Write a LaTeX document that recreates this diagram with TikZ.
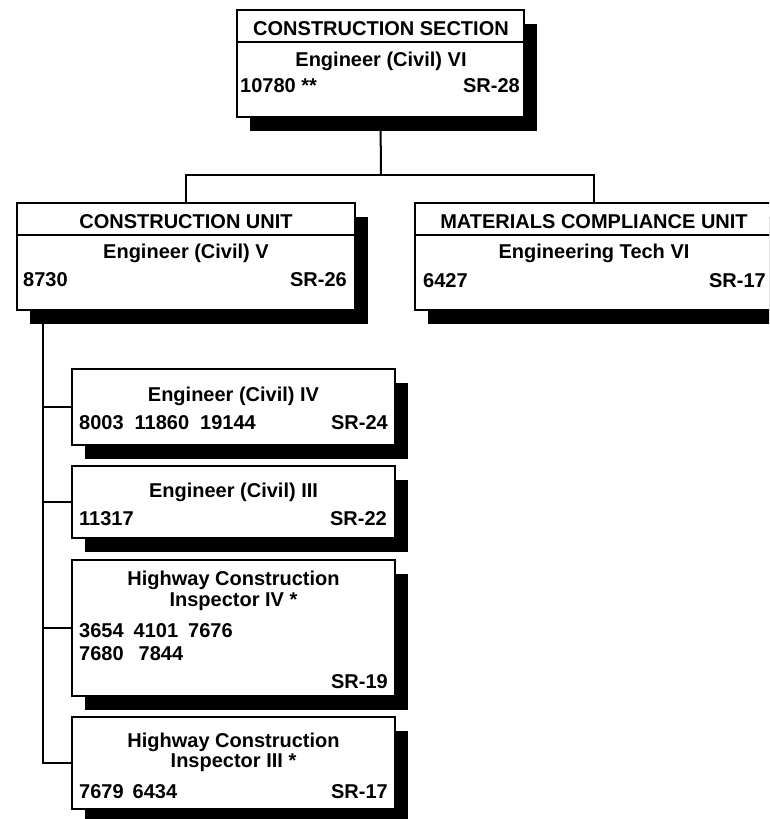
\documentclass[tikz,border=0pt]{standalone}
\usepackage{fontspec}
\setmainfont{Liberation Sans}
\usetikzlibrary{shadows,backgrounds}

\begin{document}
\begin{tikzpicture}[x=1pt,y=-1pt,
  unitbox/.style={draw,line width=2pt,fill=white,inner sep=0pt,
    drop shadow={shadow xshift=13pt,shadow yshift=-13.5pt,fill=black,opacity=1}},
  lbl/.style={inner sep=0pt,font=\fontsize{20}{22}\selectfont\bfseries},
  link/.style={line width=2pt}]
  \useasboundingbox (0,0) rectangle (769,819);
  \clip (0,0) rectangle (769,819);
  % boxes
  \node[unitbox,minimum width=287pt,minimum height=107pt] (sec) at (380.5,63.5) {};
  \node[unitbox,minimum width=338pt,minimum height=107pt] (cu) at (186,256.5) {};
  \node[unitbox,minimum width=358pt,minimum height=107pt] (mcu) at (594,256.5) {};
  \node[unitbox,minimum width=323pt,minimum height=76pt] (e4) at (233.5,407) {};
  \node[unitbox,minimum width=323pt,minimum height=72pt] (e3) at (233.5,502) {};
  \node[unitbox,minimum width=323pt,minimum height=136pt] (h4) at (233.5,628) {};
  \node[unitbox,minimum width=323pt,minimum height=92pt] (h3) at (233.5,763) {};
  \foreach \b in {sec,cu,mcu}
    \draw[link] ([yshift=-33pt]\b.north west) -- ([yshift=-33pt]\b.north east);
  % connectors
  \begin{scope}[on background layer]
    \coordinate (bus) at (381,175);
    \coordinate (spine) at (43,310);
    \draw[link] (sec.south) -- (bus);
    \draw[link] (cu.north) |- (bus) -| (mcu.north);
    \draw[link] (spine) |- (h3.west);
    \foreach \b in {e4,e3,h4}
      \draw[link] (spine |- \b.west) -- (\b.west);
  \end{scope}
  % section
  \node[lbl,anchor=base] (secT) at (381,35) {CONSTRUCTION SECTION};
  \node[lbl,anchor=base] (secR) at (381,66) {Engineer (Civil) VI};
  \node[lbl,anchor=base west] (secN) at (240,92) {10780 **};
  \node[lbl,anchor=base east] (secG) at (520,92) {SR-28};
  % construction unit
  \node[lbl,anchor=base] (cuT) at (186,228) {CONSTRUCTION UNIT};
  \node[lbl,anchor=base] (cuR) at (186,258) {Engineer (Civil) V};
  \node[lbl,anchor=base west] (cuN) at (23,286) {8730};
  \node[lbl,anchor=base east] (cuG) at (347,286) {SR-26};
  % materials compliance unit
  \node[lbl,anchor=base] (mcuT) at (594,228) {MATERIALS COMPLIANCE UNIT};
  \node[lbl,anchor=base] (mcuR) at (594,258) {Engineering Tech VI};
  \node[lbl,anchor=base west] (mcuN) at (423,287) {6427};
  \node[lbl,anchor=base east] (mcuG) at (766,287) {SR-17};
  % engineer IV
  \node[lbl,anchor=base] (e4R) at (233.5,401) {Engineer (Civil) IV};
  \node[lbl,anchor=base west] (e4N) at (79,429) {8003\hspace{0.55em}11860\hspace{0.55em}19144};
  \node[lbl,anchor=base east] (e4G) at (388,429) {SR-24};
  % engineer III
  \node[lbl,anchor=base] (e3R) at (233.5,497) {Engineer (Civil) III};
  \node[lbl,anchor=base west] (e3N) at (79,525) {11317};
  \node[lbl,anchor=base east] (e3G) at (387,525) {SR-22};
  % inspector IV
  \node[lbl,anchor=base] (h4R) at (233.5,585) {Highway Construction};
  \node[lbl,anchor=base] (h4S) at (233.5,606) {Inspector IV *};
  \node[lbl,anchor=base west] (h4N) at (79,637) {3654\hspace{0.5em}4101\hspace{0.5em}7676};
  \node[lbl,anchor=base west] (h4M) at (79,660) {7680\hspace{0.75em}7844};
  \node[lbl,anchor=base east] (h4G) at (388,688) {SR-19};
  % inspector III
  \node[lbl,anchor=base] (h3R) at (233.5,747) {Highway Construction};
  \node[lbl,anchor=base] (h3S) at (233.5,767) {Inspector III *};
  \node[lbl,anchor=base west] (h3N) at (79,798) {7679\hspace{0.45em}6434};
  \node[lbl,anchor=base east] (h3G) at (388,798) {SR-17};
\end{tikzpicture}
\end{document}
